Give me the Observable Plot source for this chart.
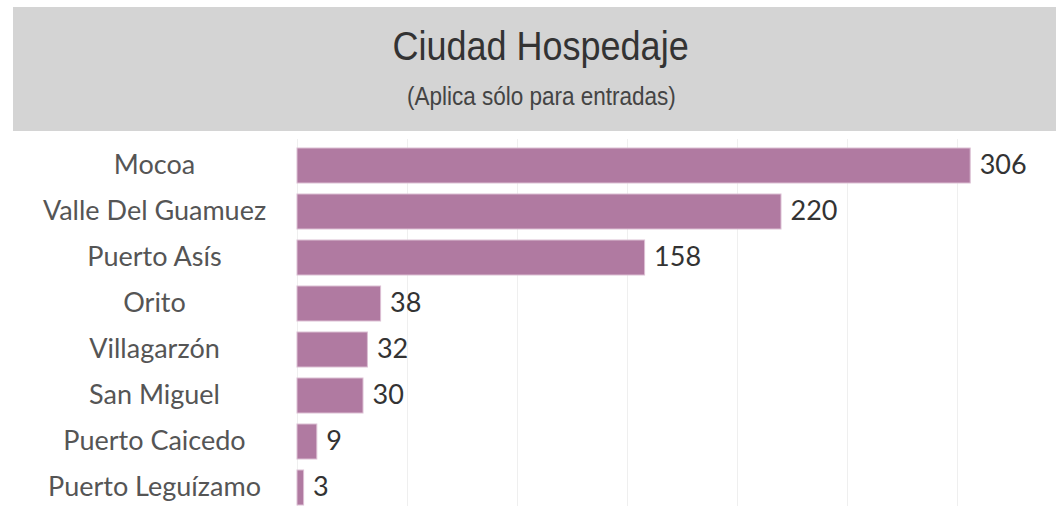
<!DOCTYPE html>
<html>
<head>
<meta charset="utf-8">
<script src="https://cdn.jsdelivr.net/npm/d3@7"></script>
<script src="https://cdn.jsdelivr.net/npm/@observablehq/plot@0.6"></script>
<style>
  html, body { margin: 0; padding: 0; background: #fff; width: 1056px; height: 506px; overflow: hidden; }
  #header { position: absolute; left: 13px; top: 7px; width: 1043px; height: 124px; background: #d4d4d4; }
  .t { position: absolute; left: 0; width: 1082px; text-align: center; font-family: "Liberation Sans", Arial, sans-serif; color: #333; white-space: nowrap; }
  .t span { display: inline-block; transform: scaleX(0.9); transform-origin: center; }
  #title { top: 26px; font-size: 40px; line-height: 40px; }
  #subtitle { top: 84px; font-size: 25px; line-height: 25px; color: #444; }
  #chart { position: absolute; left: 0; top: 131px; }
</style>
</head>
<body>
<div id="header"></div>
<div class="t" id="title"><span>Ciudad Hospedaje</span></div>
<div class="t" id="subtitle"><span>(Aplica sólo para entradas)</span></div>
<div id="chart"></div>
<script>
const categories = ["Mocoa", "Valle Del Guamuez", "Puerto Asís", "Orito", "Villagarzón", "San Miguel", "Puerto Caicedo", "Puerto Leguízamo"];
const values = [306, 220, 158, 38, 32, 30, 9, 3];
const gridTicks = [0, 50, 100, 150, 200, 250, 300];

const data = categories.map((c, i) => ({city: c, value: values[i]}));

const chart = Plot.plot({
  width: 1056,
  height: 382,
  marginLeft: 297,
  marginRight: 11,
  marginTop: 8,
  marginBottom: 0,
  style: {fontFamily: "Lato, sans-serif", background: "transparent"},
  x: {domain: [0, 340], axis: null},
  y: {domain: categories, paddingInner: 0.25, paddingOuter: 0.125, label: null},
  marks: [
    Plot.ruleX(gridTicks, {stroke: "#efefef", strokeWidth: 1}),
    Plot.barX(data, {y: "city", x: "value", fill: "#b07aa1", stroke: "#dcbfd3", strokeWidth: 1}),
    Plot.text(data, {y: "city", x: "value", text: d => String(d.value), dx: 9, dy: -1, textAnchor: "start", fontSize: 27, fill: "#333"}),
    Plot.axisY({tickSize: 0, tickPadding: 143, textAnchor: "middle", fontSize: 27, color: "#555", dy: -1, label: null})
  ]
});
document.getElementById("chart").appendChild(chart);
</script>
</body>
</html>
